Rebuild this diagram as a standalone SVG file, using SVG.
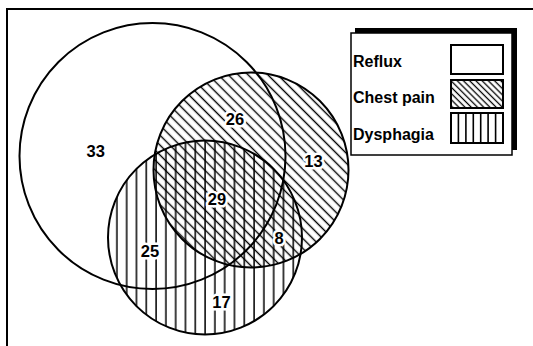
<svg xmlns="http://www.w3.org/2000/svg" width="533" height="346" viewBox="0 0 533 346">
<style>
.outline{fill:none;stroke:#000;stroke-width:2}
.lbl{font-family:"Liberation Sans",Arial,sans-serif;font-weight:bold;font-size:16px;fill:#000}
.num{font-size:16.5px;text-anchor:middle;stroke:#fff;stroke-width:5;stroke-linejoin:round;paint-order:stroke}
.frame{stroke:#000;stroke-width:2;fill:none}
.sw{stroke:#000;stroke-width:2}
</style>
<defs>
<pattern id="diag" patternUnits="userSpaceOnUse" width="7" height="7" patternTransform="rotate(-45)"><line x1="3.5" y1="-1" x2="3.5" y2="8" stroke="#000" stroke-width="1.4"/></pattern>
<pattern id="vert" patternUnits="userSpaceOnUse" x="4.1" y="0" width="9.8" height="10"><line x1="5" y1="-1" x2="5" y2="11" stroke="#000" stroke-width="1.5"/></pattern>
<pattern id="diagS" patternUnits="userSpaceOnUse" width="4.4" height="4.4" patternTransform="rotate(-45)"><line x1="2.2" y1="-1" x2="2.2" y2="6" stroke="#000" stroke-width="1.3"/></pattern>
</defs>
<rect x="0" y="0" width="533" height="346" fill="#fff"/>
<g id="frame">
<path class="frame" d="M7,346 V9 H533"/>
</g>
<g id="reflux">
<circle cx="152.5" cy="156" r="133" fill="#fff"/>
</g>
<g id="chest-pain">
<circle cx="251" cy="170" r="97.5" fill="url(#diag)"/>
</g>
<g id="dysphagia">
<circle cx="205" cy="237.5" r="97" fill="url(#vert)"/>
</g>
<g id="outlines">
<circle class="outline" cx="152.5" cy="156" r="133"/>
<circle class="outline" cx="251" cy="170" r="97.5"/>
<circle class="outline" cx="205" cy="237.5" r="97"/>
</g>
<g id="connectors"></g>
<g id="counts" class="lbl">
<text class="num" x="95.7" y="156.5">33</text>
<text class="num" x="235" y="125">26</text>
<text class="num" x="313.5" y="166.5">13</text>
<text class="num" x="217" y="205">29</text>
<text class="num" x="150" y="257">25</text>
<text class="num" x="279" y="243.5">8</text>
<text class="num" x="221.5" y="308">17</text>
</g>
<g id="legend">
<rect x="355" y="28" width="162" height="122" fill="#000"/>
<rect x="351" y="33" width="161" height="122" fill="#fff" stroke="#000" stroke-width="1.5"/>
<text class="lbl" x="353" y="66.5">Reflux</text>
<text class="lbl" x="353" y="103">Chest pain</text>
<text class="lbl" x="353" y="140">Dysphagia</text>
<rect class="sw" x="451" y="45" width="52" height="29" fill="#fff"/>
<rect class="sw" x="451" y="80" width="52" height="28" fill="url(#diagS)"/>
<rect class="sw" x="451" y="113" width="52" height="30" fill="#fff"/>
<path d="M458.4,113V143M465.9,113V143M473.3,113V143M480.7,113V143M488.1,113V143M495.6,113V143" stroke="#000" stroke-width="1.6"/>
</g>
</svg>
